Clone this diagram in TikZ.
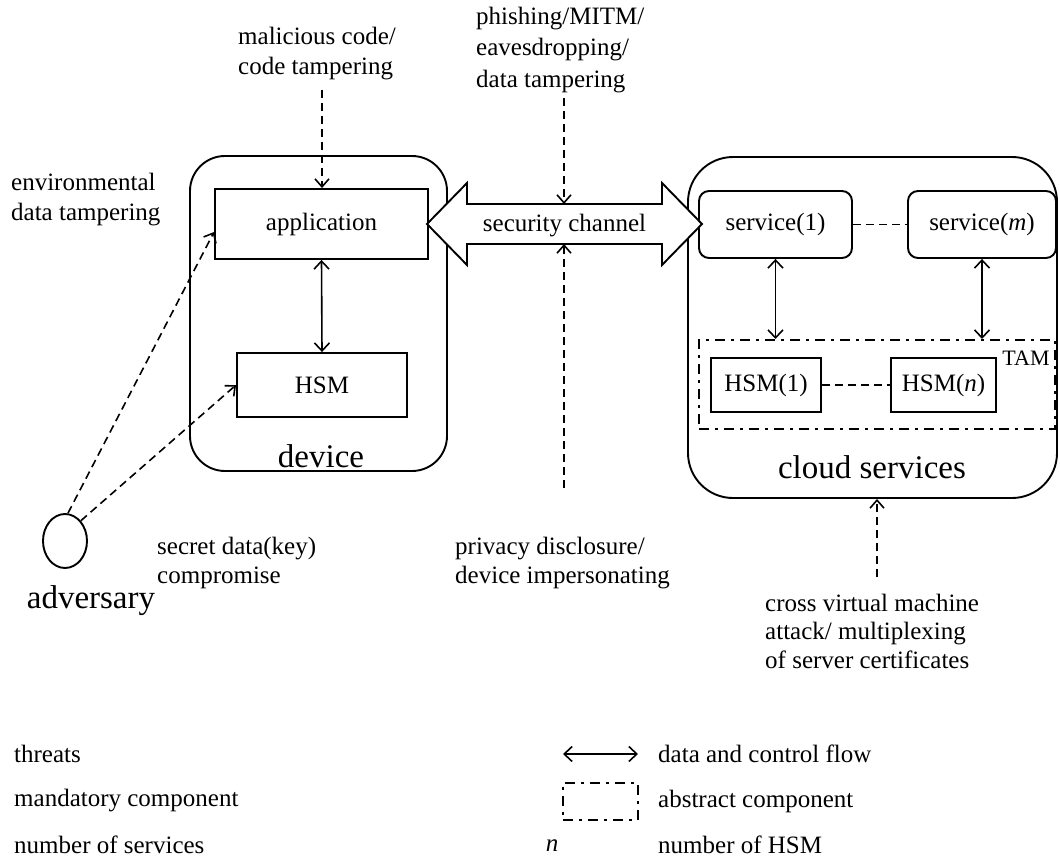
\documentclass[tikz,border=0pt]{standalone}
\usepackage{fontspec}
\setmainfont{Liberation Serif}
\usetikzlibrary{arrows.meta,shapes.geometric,calc}

\begin{document}
\begin{tikzpicture}[x=1pt,y=-1pt,
  every node/.style={font=\fontsize{25}{30}\selectfont, inner sep=0pt},
  box/.style={draw, line width=1.9pt, rectangle, inner sep=0pt},
  rbox/.style={box, rounded corners=10pt},
  container/.style={draw, line width=1.9pt, rounded corners=#1},
  flow/.style={line width=1.6pt, {Straight Barb[length=8pt,width=15pt]}-{Straight Barb[length=8pt,width=15pt]}},
  threat/.style={line width=1.6pt, dash pattern=on 8pt off 5pt, -{Straight Barb[length=8pt,width=14pt]}},
  link/.style={line width=1.6pt, dash pattern=on 8pt off 5pt},
  abstract/.style={draw, line width=2pt, dash pattern=on 10pt off 6pt on 3pt off 6pt},
  big/.style={font=\fontsize{33}{38}\selectfont},
  ttext/.style={align=left, anchor=west},
  legend/.style={anchor=west, font=\fontsize{25}{30}\selectfont},
]
\useasboundingbox (0,0) rectangle (1060,861);

% containers
\node[container=35pt, minimum width=257pt, minimum height=315pt] (dev) at (318.5,313.5) {};
\node[container=45pt, minimum width=369pt, minimum height=341pt] (cloud) at (872.5,327.5) {};

% device components
\node[box, minimum width=213pt, minimum height=70pt] (app) at (321.5,224) {application};
\node[box, minimum width=170pt, minimum height=64pt] (hsm) at (322,385) {HSM};
\node[big, anchor=base] (devlbl) at (321,467) {device};
\draw[flow] (app.south) -- (hsm.north);

% cloud components
\node[rbox, minimum width=153pt, minimum height=67pt] (svc1) at (775.5,224.5) {service(1)};
\node[rbox, minimum width=148pt, minimum height=67pt] (svcm) at (982,224.5) {service(\textit{m})};
\node[abstract, minimum width=356pt, minimum height=89pt] (tam) at (877,384.5) {};
\node[font=\fontsize{22}{26}\selectfont] (tamlbl) at (1026,358) {TAM};
\node[box, minimum width=110pt, minimum height=54pt] (hsm1) at (766,385) {HSM(1)};
\node[box, minimum width=105pt, minimum height=54pt] (hsmn) at (943.5,385) {HSM(\textit{n})};
\node[big, anchor=base] (cloudlbl) at (872,478) {cloud services};
\draw[link] (svc1.east) -- (svcm.west);
\draw[link] (hsm1.east) -- (hsmn.west);
\draw[flow] (svc1.south) -- (svc1.south |- tam.north);
\draw[flow] (svcm.south) -- (svcm.south |- tam.north);

% security channel
\draw[line width=1.9pt, fill=white] (427,224) -- (467,183) -- (467,204) -- (662,204)
  -- (662,183) -- (702,224) -- (662,265) -- (662,244) -- (467,244) -- (467,265) -- cycle;
\node (chan) at (564.5,226) {security channel};
\coordinate (chtop) at (564,204);
\coordinate (chbot) at (564,244);

% adversary
\node[draw, ellipse, line width=1.9pt, minimum width=44pt, minimum height=54pt] (adv) at (65,541) {};
\node[big] (advlbl) at (91,601) {adversary};

% threats
\node[ttext] (tenv) at (11,200) {environmental\\data tampering};
\node[ttext] (tmal) at (238,54) {malicious code/\\code tampering};
\node[ttext, font=\fontsize{25}{31.5}\selectfont] (tphi) at (476,50) {phishing/MITM/\\eavesdropping/\\data tampering};
\node[ttext, font=\fontsize{25}{28.5}\selectfont] (tsec) at (157,563) {secret data(key)\\compromise};
\node[ttext, font=\fontsize{25}{28.5}\selectfont] (tpri) at (455,563) {privacy disclosure/\\device impersonating};
\node[ttext, font=\fontsize{25}{28.5}\selectfont] (tcro) at (765,631) {cross virtual machine\\attack/ multiplexing\\of server certificates};

\coordinate (smal) at (322,90);
\coordinate (sphi) at (564,98);
\coordinate (spri) at (564,488);
\coordinate (scro) at (877,577);
\draw[threat] (smal) -- (smal |- app.north);
\draw[threat] (sphi) -- (chtop);
\draw[threat] (spri) -- (chbot);
\draw[threat] (scro) -- (scro |- cloud.south);
\draw[threat] (adv.84) -- ($(app.west)+(0,8)$);
\draw[threat] (adv.52) -- (hsm.west);

% legend
\node[legend] (l1) at (14,754) {threats};
\node[legend] (l2) at (14,801) {mandatory component};
\node[legend] (l3) at (14,845) {number of services};
\coordinate (fa) at (563,754);
\coordinate (fb) at (638,754);
\draw[flow] (fa) -- (fb);
\node[abstract, minimum width=75pt, minimum height=37pt] (lbox) at (600.5,801) {};
\node (ln) at (552,846) {\textit{n}};
\node[legend] (r1) at (658,754) {data and control flow};
\node[legend] (r2) at (658,801) {abstract component};
\node[legend] (r3) at (658,845) {number of HSM};
\end{tikzpicture}
\end{document}
